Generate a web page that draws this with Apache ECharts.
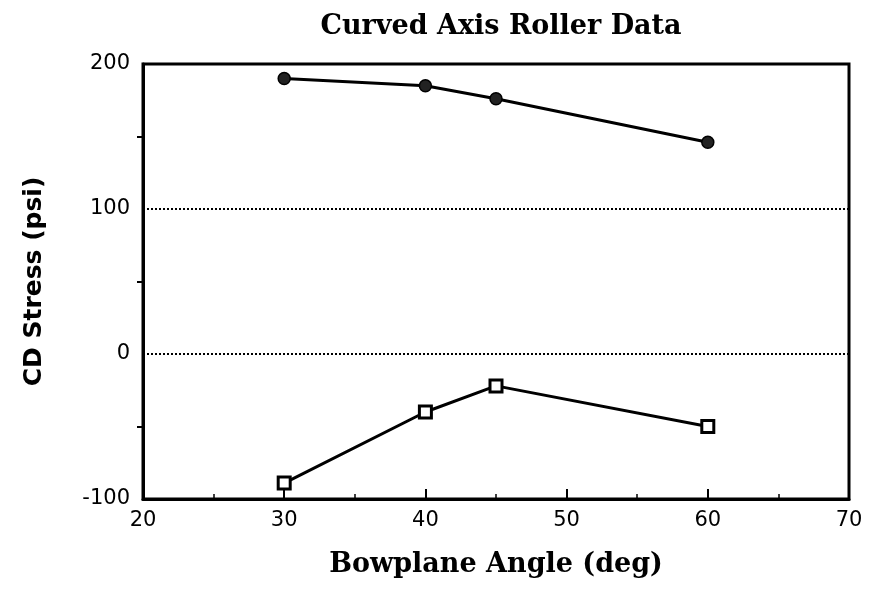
<!DOCTYPE html>
<html>
<head>
<meta charset="utf-8">
<script src="https://cdn.jsdelivr.net/npm/echarts@6/dist/echarts.min.js"></script>
<style>
  html, body { margin: 0; padding: 0; background: #fff; }
  #myChart { width: 869px; height: 590px; }
</style>
</head>
<body>
<div id="myChart"></div>
<script>
// 数据
const angles = [30, 40, 45, 60];
const upperStress = [190, 185, 176, 146];
const lowerStress = [-89, -40, -22, -50];

const chart = echarts.init(document.getElementById('myChart'));

const toPairs = vals => angles.map((a, i) => [a, vals[i]]);

const lineStyle = {color: '#000', width: 3};

let option = {
    backgroundColor: '#fff',
    animation: false,
    title: {
        text: 'Curved Axis Roller Data',
        left: 496,
        textAlign: 'center',
        top: 8,
        textStyle: {fontFamily: 'DejaVu Serif', fontWeight: 'bold', fontSize: 27, color: '#000'}
    },
    grid: {
        left: 143, right: 20, top: 64, bottom: 91,
        show: true, borderColor: '#000', borderWidth: 3
    },
    xAxis: {
        type: 'value',
        min: 20, max: 70, interval: 10,
        name: 'Bowplane Angle (deg)',
        nameLocation: 'middle',
        nameGap: 52,
        nameTextStyle: {fontFamily: 'DejaVu Serif', fontWeight: 'bold', fontSize: 27, color: '#000'},
        axisLine: {show: true, onZero: false, lineStyle: {color: '#000', width: 3}},
        axisTick: {show: true, inside: true, length: 10, lineStyle: {color: '#000', width: 2}},
        minorTick: {show: true, splitNumber: 2, length: 5, lineStyle: {color: '#000', width: 1.5}},
        axisLabel: {margin: 11, fontFamily: 'DejaVu Sans', fontSize: 21, color: '#000'},
        splitLine: {show: false}
    },
    yAxis: {
        type: 'value',
        min: -100, max: 200, interval: 100,
        name: 'CD Stress (psi)',
        nameLocation: 'middle',
        nameGap: 96,
        nameTextStyle: {fontFamily: 'DejaVu Sans', fontWeight: 'bold', fontSize: 25, color: '#000'},
        axisLine: {show: true, onZero: false, lineStyle: {color: '#000', width: 3}},
        axisTick: {show: false},
        minorTick: {show: true, splitNumber: 2, length: 6, lineStyle: {color: '#000', width: 2}},
        axisLabel: {margin: 13, fontFamily: 'DejaVu Sans', fontSize: 21, color: '#000'},
        splitLine: {show: true, lineStyle: {color: '#000', width: 2, type: 'dotted'}}
    },
    series: [
        {
            type: 'line',
            data: toPairs(upperStress),
            symbol: 'circle',
            symbolSize: 12,
            lineStyle,
            itemStyle: {color: '#222', borderColor: '#000', borderWidth: 1.5}
        },
        {
            type: 'line',
            data: toPairs(lowerStress),
            symbol: 'rect',
            symbolSize: 12,
            lineStyle,
            itemStyle: {color: '#fff', borderColor: '#000', borderWidth: 3}
        }
    ]
};

chart.setOption(option);
</script>
</body>
</html>
